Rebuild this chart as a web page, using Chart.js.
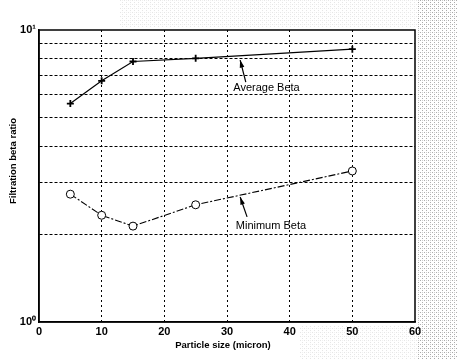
<!DOCTYPE html>
<html>
<head>
<meta charset="utf-8">
<script src="https://cdn.jsdelivr.net/npm/chart.js@4"></script>
<style>
  html, body { margin: 0; padding: 0; background: #fff; }
  canvas { display: block; }
</style>
</head>
<body>
<canvas id="grafico" width="457" height="359"></canvas>
<script>
// valores
const particleSize = [5, 10, 15, 25, 50];
const averageBeta = [5.6, 6.7, 7.8, 8.0, 8.6];
const minimumBeta = [2.74, 2.32, 2.13, 2.52, 3.29];
const xTicks = [0, 10, 20, 30, 40, 50, 60];
const yTicks = [1, 2, 3, 4, 5, 6, 7, 8, 9, 10];
const yTickLabels = { 1: '10\u2070', 10: '10\u00b9' };

// anotacoes (em coordenadas de dados)
const notes = [
    { text: 'Average Beta', tx: 31.0, ty: 6.33, from: [33.0, 6.63], to: [32.1, 7.89] },
    { text: 'Minimum Beta', tx: 31.4, ty: 2.13, from: [33.2, 2.29], to: [32.1, 2.68] }
];

const fontTick = { family: 'Liberation Sans', size: 11, weight: 'bold' };

// fundo da digitalizacao (ruido cinza a direita)
function halftone(ctx) {
    const p = document.createElement('canvas');
    p.width = 4; p.height = 4;
    const pc = p.getContext('2d');
    pc.fillStyle = '#9a9a9a';
    pc.fillRect(0, 0, 1, 1);
    pc.fillRect(2, 2, 1, 1);
    pc.fillStyle = '#c4c4c4';
    pc.fillRect(2, 0, 1, 1);
    return ctx.createPattern(p, 'repeat');
}

const scanPlugin = {
    id: 'scan',
    beforeDraw(chart) {
        const ctx = chart.ctx;
        ctx.save();
        ctx.fillStyle = '#fff';
        ctx.fillRect(0, 0, chart.width, chart.height);
        ctx.fillStyle = halftone(ctx);
        ctx.globalAlpha = 0.8;
        ctx.fillRect(chart.chartArea.right + 2, 0, chart.width, chart.height);
        ctx.globalAlpha = 0.25;
        ctx.fillRect(120, 0, chart.width, chart.chartArea.top - 3);
        ctx.fillRect(300, chart.chartArea.bottom + 3, chart.width, chart.height);
        ctx.restore();
    },
    afterDraw(chart) {
        const ctx = chart.ctx;
        const a = chart.chartArea;
        const xs = chart.scales.x;
        const ys = chart.scales.y;
        ctx.save();
        ctx.strokeStyle = '#000';
        ctx.lineWidth = 1.5;
        ctx.strokeRect(a.left, a.top, a.right - a.left, a.bottom - a.top);

        // anotacoes com setas
        ctx.fillStyle = '#000';
        ctx.font = '11px "Liberation Sans"';
        ctx.textBaseline = 'middle';
        notes.forEach(n => {
            ctx.fillText(n.text, xs.getPixelForValue(n.tx), ys.getPixelForValue(n.ty));
            const x1 = xs.getPixelForValue(n.from[0]), y1 = ys.getPixelForValue(n.from[1]);
            const x2 = xs.getPixelForValue(n.to[0]), y2 = ys.getPixelForValue(n.to[1]);
            ctx.lineWidth = 1.2;
            ctx.beginPath();
            ctx.moveTo(x1, y1);
            ctx.lineTo(x2, y2);
            ctx.stroke();
            const ang = Math.atan2(y2 - y1, x2 - x1);
            ctx.beginPath();
            ctx.moveTo(x2, y2);
            ctx.lineTo(x2 - 8 * Math.cos(ang - 0.3), y2 - 8 * Math.sin(ang - 0.3));
            ctx.lineTo(x2 - 8 * Math.cos(ang + 0.3), y2 - 8 * Math.sin(ang + 0.3));
            ctx.closePath();
            ctx.fill();
        });

        // titulos dos eixos
        ctx.font = 'bold 9.5px "Liberation Sans"';
        ctx.textAlign = 'center';
        ctx.fillText('Particle size (micron)', 223, 345);
        ctx.translate(13, 161);
        ctx.rotate(-Math.PI / 2);
        ctx.fillText('Filtration beta ratio', 0, 0);
        ctx.restore();
    }
};

const ctx = document.getElementById('grafico').getContext('2d');

new Chart(ctx, {
    type: 'line',
    data: {
        datasets: [
            {
                label: 'Average Beta',
                data: particleSize.map((x, i) => ({ x: x, y: averageBeta[i] })),
                borderColor: '#000',
                borderWidth: 1.2,
                pointStyle: 'cross',
                pointRadius: 3.5,
                pointBorderWidth: 1.8,
                pointBorderColor: '#000',
                fill: false,
                tension: 0
            },
            {
                label: 'Minimum Beta',
                data: particleSize.map((x, i) => ({ x: x, y: minimumBeta[i] })),
                borderColor: '#000',
                borderWidth: 1.1,
                borderDash: [7, 2, 2, 2],
                pointStyle: 'circle',
                pointRadius: 4,
                pointBorderWidth: 1,
                pointBorderColor: '#000',
                pointBackgroundColor: '#fff',
                fill: false,
                tension: 0
            }
        ]
    },
    options: {
        responsive: false,
        animation: false,
        devicePixelRatio: 1,
        layout: { padding: { left: 0, top: 30, right: 42, bottom: 0 } },
        plugins: {
            legend: { display: false },
            tooltip: { enabled: false }
        },
        scales: {
            x: {
                type: 'linear',
                min: 0,
                max: 60,
                afterFit: s => { s.height = 37; },
                afterBuildTicks: s => { s.ticks = xTicks.map(v => ({ value: v })); },
                ticks: { color: '#000', font: fontTick, padding: 3, maxRotation: 0 },
                grid: {
                    drawTicks: false,
                    color: c => (c.tick && (c.tick.value === 0 || c.tick.value === 60)) ? 'rgba(0,0,0,0)' : '#000',
                    lineWidth: 1
                },
                border: { display: true, color: '#000', width: 1.5, dash: [2, 3] }
            },
            y: {
                type: 'logarithmic',
                min: 1,
                max: 10,
                afterFit: s => { s.width = 39; },
                afterBuildTicks: s => { s.ticks = yTicks.map(v => ({ value: v })); },
                ticks: {
                    color: '#000',
                    font: fontTick,
                    padding: 3,
                    autoSkip: false,
                    callback: v => yTickLabels[v] || ''
                },
                grid: {
                    drawTicks: false,
                    color: c => (c.tick && (c.tick.value === 1 || c.tick.value === 10)) ? 'rgba(0,0,0,0)' : '#000',
                    lineWidth: 1
                },
                border: { display: true, color: '#000', width: 1.5, dash: [3, 2] }
            }
        }
    },
    plugins: [scanPlugin]
});
</script>
</body>
</html>
